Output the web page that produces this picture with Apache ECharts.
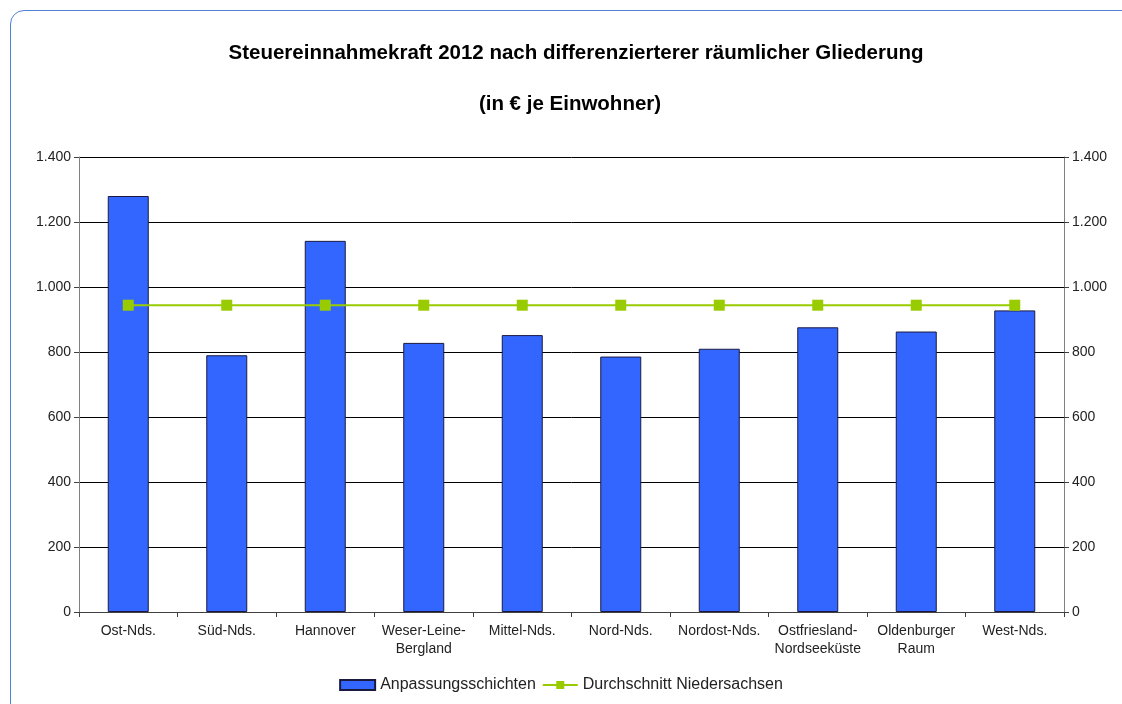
<!DOCTYPE html>
<html>
<head>
<meta charset="utf-8">
<script src="https://cdn.jsdelivr.net/npm/echarts@6/dist/echarts.min.js"></script>
<style>
html,body{margin:0;padding:0;background:#fff;overflow:hidden;}
#frame{position:absolute;left:10px;top:10px;width:1130px;height:720px;border:1px solid #4f81d6;border-radius:14px;box-sizing:border-box;}
#main{position:absolute;left:0;top:0;width:1122px;height:704px;}
</style>
</head>
<body>
<div id="frame"></div>
<div id="main"></div>
<script>
const categories = ['Ost-Nds.', 'Süd-Nds.', 'Hannover', 'Weser-Leine-\nBergland', 'Mittel-Nds.', 'Nord-Nds.', 'Nordost-Nds.', 'Ostfriesland-\nNordseeküste', 'Oldenburger\nRaum', 'West-Nds.'];
const anpassungsschichten = [1280, 790, 1142, 828, 852, 786, 810, 876, 863, 928];
const durchschnitt = [944, 944, 944, 944, 944, 944, 944, 944, 944, 944];
const yTicks = [0, 200, 400, 600, 800, 1000, 1200, 1400];

const fmt = v => String(v).replace(/\B(?=(\d{3})+(?!\d))/g, '.');
const font = 'Arial, "Liberation Sans", sans-serif';
const chart = echarts.init(document.getElementById('main'));
const yAxisBase = {
  type: 'value', min: yTicks[0], max: yTicks[yTicks.length - 1], interval: 200,
  axisLine: { show: true, lineStyle: { color: '#808080', width: 1 } },
  axisTick: { show: true, length: 5, lineStyle: { color: '#404040' } },
  axisLabel: { formatter: fmt, color: '#222', fontSize: 14, fontFamily: font, margin: 8 }
};
chart.setOption({
  animation: false,
  title: [
    { text: 'Steuereinnahmekraft 2012 nach differenzierterer räumlicher Gliederung', left: 571, top: 38, textAlign: 'center',
      textStyle: { fontSize: 20.5, fontWeight: 'bold', color: '#000', fontFamily: font } },
    { text: '(in € je Einwohner)', left: 565, top: 89, textAlign: 'center',
      textStyle: { fontSize: 20.5, fontWeight: 'bold', color: '#000', fontFamily: font } }
  ],
  grid: { left: 79, right: 58, top: 157, bottom: 92 },
  legend: {
    top: 672, left: 'center', itemGap: 6, itemWidth: 35, itemHeight: 10,
    textStyle: { fontSize: 16, color: '#222', fontFamily: font },
    data: [
      { name: 'Anpassungsschichten', icon: 'rect' },
      { name: 'Durchschnitt Niedersachsen' }
    ]
  },
  xAxis: {
    type: 'category', data: categories,
    axisLine: { lineStyle: { color: '#404040' } },
    axisTick: { show: true, alignWithLabel: false, length: 5, lineStyle: { color: '#404040' } },
    axisLabel: { color: '#222', fontSize: 14, fontFamily: font, margin: 10, lineHeight: 18, interval: 0 }
  },
  yAxis: [
    Object.assign({}, yAxisBase, { position: 'left',
      splitLine: { show: true, lineStyle: { color: '#000', width: 1 } } }),
    Object.assign({}, yAxisBase, { position: 'right', splitLine: { show: false } })
  ],
  series: [
    { name: 'Anpassungsschichten', type: 'bar', data: anpassungsschichten, barWidth: 41, yAxisIndex: 0,
      itemStyle: { color: '#3366FF', borderColor: '#1a1a40', borderWidth: 1 } },
    { name: 'Durchschnitt Niedersachsen', type: 'line', data: durchschnitt, yAxisIndex: 0,
      symbol: 'rect', symbolSize: 11, lineStyle: { color: '#99CC00', width: 2 },
      itemStyle: { color: '#99CC00' } }
  ]
});
</script>
</body>
</html>
